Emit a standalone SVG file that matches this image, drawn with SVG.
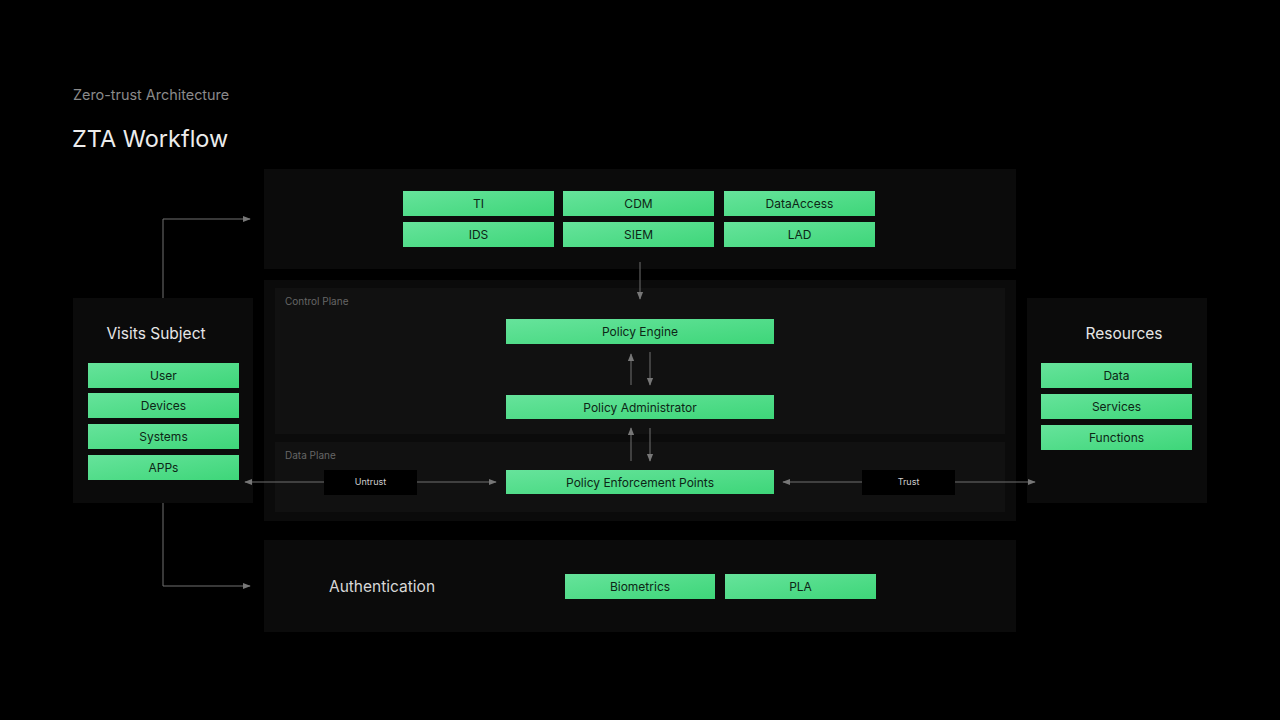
<svg xmlns="http://www.w3.org/2000/svg" width="1280" height="720" viewBox="0 0 1280 720">
<defs>
<linearGradient id="g" x1="0" y1="0" x2="1" y2="1">
<stop offset="0" stop-color="#66e39b"/>
<stop offset="1" stop-color="#3ed679"/>
</linearGradient>
<marker id="ah" viewBox="0 0 10 10" refX="9" refY="5" markerWidth="8" markerHeight="8" markerUnits="userSpaceOnUse" orient="auto-start-reverse">
<path d="M0,1 L10,5 L0,9 z" fill="#777"/>
</marker>
<style>
.panel{fill:#0b0b0b}
.inner{fill:#111111}
.gb{fill:url(#g)}
.gt{font-family:Inter,"Liberation Sans",sans-serif;font-size:12px;fill:#0d2616;text-anchor:middle;dominant-baseline:central}
.hd{font-family:Inter,"Liberation Sans",sans-serif;font-size:15.5px;fill:#e6e6e6;text-anchor:middle;dominant-baseline:central}
.sm{font-family:Inter,"Liberation Sans",sans-serif;font-size:10px;fill:#666}
.lbl{font-family:Inter,"Liberation Sans",sans-serif;font-size:9px;fill:#cfcfcf;text-anchor:middle;dominant-baseline:central}
.cn{stroke:#707070;stroke-width:1;fill:none}
</style>
</defs>
<rect width="1280" height="720" fill="#000"/>
<text x="73" y="100" font-family="Inter,'Liberation Sans',sans-serif" font-size="14.4" fill="#8a8a8a">Zero-trust Architecture</text>
<text x="72" y="147" font-family="Inter,'Liberation Sans',sans-serif" font-size="23.5" fill="#ececec">ZTA Workflow</text>

<g id="sources">
<rect class="panel" x="264" y="169" width="752" height="100"/>
<rect class="gb" x="403" y="191" width="151" height="25"/><text class="gt" x="478.5" y="203.5">TI</text>
<rect class="gb" x="563" y="191" width="151" height="25"/><text class="gt" x="638.5" y="203.5">CDM</text>
<rect class="gb" x="724" y="191" width="151" height="25"/><text class="gt" x="799.5" y="203.5">DataAccess</text>
<rect class="gb" x="403" y="222" width="151" height="25"/><text class="gt" x="478.5" y="234.5">IDS</text>
<rect class="gb" x="563" y="222" width="151" height="25"/><text class="gt" x="638.5" y="234.5">SIEM</text>
<rect class="gb" x="724" y="222" width="151" height="25"/><text class="gt" x="799.5" y="234.5">LAD</text>
</g>

<g id="planes">
<rect class="panel" x="264" y="280" width="752" height="241"/>
<rect class="inner" x="275" y="288" width="730" height="146"/>
<rect class="inner" x="275" y="442" width="730" height="70"/>
<text class="sm" x="285" y="305">Control Plane</text>
<text class="sm" x="285" y="459">Data Plane</text>
</g>
<g id="policy-engine"><rect class="gb" x="506" y="319" width="268" height="25"/><text class="gt" x="640" y="331.5">Policy Engine</text></g>
<g id="policy-admin"><rect class="gb" x="506" y="395" width="268" height="24"/><text class="gt" x="640" y="407">Policy Administrator</text></g>
<g id="pep"><rect class="gb" x="506" y="470" width="268" height="24"/><text class="gt" x="640" y="482">Policy Enforcement Points</text></g>

<g id="subject">
<rect class="panel" x="73" y="298" width="180" height="205"/>
<text class="hd" x="156" y="333">Visits Subject</text>
<rect class="gb" x="88" y="363" width="151" height="25"/><text class="gt" x="163.5" y="375.5">User</text>
<rect class="gb" x="88" y="393" width="151" height="25"/><text class="gt" x="163.5" y="405.5">Devices</text>
<rect class="gb" x="88" y="424" width="151" height="25"/><text class="gt" x="163.5" y="436.5">Systems</text>
<rect class="gb" x="88" y="455" width="151" height="25"/><text class="gt" x="163.5" y="467.5">APPs</text>
</g>

<g id="resources">
<rect class="panel" x="1027" y="298" width="180" height="205"/>
<text class="hd" x="1124" y="333">Resources</text>
<rect class="gb" x="1041" y="363" width="151" height="25"/><text class="gt" x="1116.5" y="375.5">Data</text>
<rect class="gb" x="1041" y="394" width="151" height="25"/><text class="gt" x="1116.5" y="406.5">Services</text>
<rect class="gb" x="1041" y="425" width="151" height="25"/><text class="gt" x="1116.5" y="437.5">Functions</text>
</g>

<g id="auth">
<rect class="panel" x="264" y="540" width="752" height="92"/>
<text x="382" y="586" font-family="Inter,'Liberation Sans',sans-serif" font-size="15.5" fill="#d8d8d8" text-anchor="middle" dominant-baseline="central">Authentication</text>
<rect class="gb" x="565" y="574" width="150" height="25"/><text class="gt" x="640" y="586.5">Biometrics</text>
<rect class="gb" x="725" y="574" width="151" height="25"/><text class="gt" x="800.5" y="586.5">PLA</text>
</g>

<g id="connectors">
<path class="cn" d="M163,298 V219 H250" marker-end="url(#ah)"/>
<path class="cn" d="M163,503 V586 H250" marker-end="url(#ah)"/>
<path class="cn" d="M640,262 V299" marker-end="url(#ah)"/>
<path class="cn" d="M631,385 V354" marker-end="url(#ah)"/>
<path class="cn" d="M650,352 V385" marker-end="url(#ah)"/>
<path class="cn" d="M631,461 V428" marker-end="url(#ah)"/>
<path class="cn" d="M650,428 V461" marker-end="url(#ah)"/>
<path class="cn" d="M245,482 H496" marker-start="url(#ah)" marker-end="url(#ah)"/>
<path class="cn" d="M783,482 H1035" marker-start="url(#ah)" marker-end="url(#ah)"/>
</g>
<g id="untrust"><rect x="324" y="470" width="93" height="25" fill="#000"/><text class="lbl" x="370.5" y="481">Untrust</text></g>
<g id="trust"><rect x="862" y="470" width="93" height="25" fill="#000"/><text class="lbl" x="908.5" y="481">Trust</text></g>
</svg>
